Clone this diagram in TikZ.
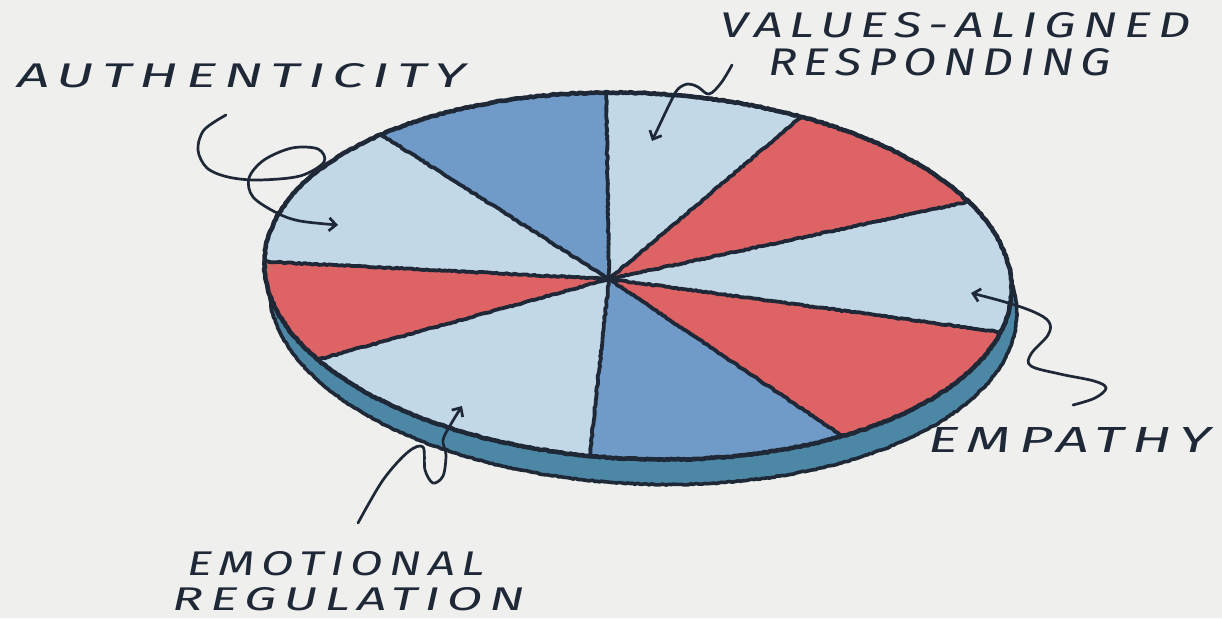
\documentclass[tikz,border=0pt]{standalone}
\usepackage{fontspec}
\usepackage{graphicx}
\usetikzlibrary{arrows.meta,decorations.pathmorphing}
\newfontfamily\hand[LetterSpace=14]{Fira Sans}

\definecolor{paper}{RGB}{239,239,237}
\definecolor{ink}{RGB}{30,40,55}
\definecolor{pale}{RGB}{194,216,230}
\definecolor{steel}{RGB}{112,155,200}
\definecolor{coral}{RGB}{221,99,101}
\definecolor{rimblue}{RGB}{76,136,166}

% point on the tilted top ellipse of the pie, by parameter angle
\pgfmathdeclarefunction{pex}{1}{\pgfmathparse{638+374*cos(#1)*0.99905-183*sin(#1)*0.04362}}
\pgfmathdeclarefunction{pey}{1}{\pgfmathparse{276+374*cos(#1)*0.04362+183*sin(#1)*0.99905}}

% hand-lettered caption squeezed into a box of given width and cap height
\newcommand{\lbl}[3]{\resizebox{#1pt}{#2pt}{\hand\itshape #3}}

\begin{document}
\begin{tikzpicture}[x=1pt,y=-1pt,
  crayon/.style={decorate, decoration={random steps, segment length=2.5pt, amplitude=0.6pt}},
  outline/.style={draw=ink, line width=4.6pt, line join=round, crayon},
  spoke/.style={draw=ink, line width=3.8pt, line cap=round, line join=round, crayon},
  callout/.style={draw=ink, line width=2.7pt, line cap=round, line join=round,
                  -{Straight Barb[length=7pt,width=13pt]}},
  lbltext/.style={text=ink, inner sep=0pt, anchor=base west}]

\pgfmathsetseed{7}
\fill[paper] (0,0) rectangle (1222,618);
\useasboundingbox (0,0) rectangle (1222,618);

% base rim under the disc
\fill[rimblue] plot[domain=0:360, samples=140] ({pex(\x)+5},{pey(\x)+25}) -- cycle;
\draw[outline, line width=3.6pt] plot[domain=0:360, samples=140] ({pex(\x)+5},{pey(\x)+25}) -- cycle;

% slices
\coordinate (hub) at (609,279);
\foreach \a/\b/\c in {-96.1/-65.3/pale, -65.3/-29.0/coral, -29.0/12.7/pale,
                      12.7/55.6/coral, 55.6/96.2/steel, 96.2/147.8/pale,
                      147.8/179.4/coral, 179.4/225.3/pale, 225.3/263.9/steel}
  \fill[\c] (hub) -- plot[domain=\a:\b, samples=30] ({pex(\x)},{pey(\x)}) -- cycle;

% dividing lines
\foreach \t [count=\i] in {-96.1,-65.3,-29.0,12.7,55.6,96.2,147.8,179.4,225.3}{
  \coordinate (edge\i) at ({pex(\t)},{pey(\t)});
  \draw[spoke] (hub) -- (edge\i);
}

% disc edge
\draw[outline] plot[domain=0:360, samples=140] ({pex(\x)},{pey(\x)}) -- cycle;

% captions
\node[lbltext] (authL) at (17,87)  {\lbl{448}{24}{AUTHENTICITY}};
\node[lbltext] (valL)  at (720,38) {\lbl{470}{25}{VALUES-ALIGNED}};
\node[lbltext] (respL) at (768,75) {\lbl{343}{27}{RESPONDING}};
\node[lbltext] (empL)  at (928,452) {\lbl{282}{25}{EMPATHY}};
\node[lbltext] (emoL)  at (187,575) {\lbl{298}{24}{EMOTIONAL}};
\node[lbltext] (regL)  at (172,610) {\lbl{352}{23}{REGULATION}};

% callout arrows
\coordinate (authS) at (226,115);  \coordinate (authT) at (338,225);
\coordinate (valS)  at (732,65);   \coordinate (valT)  at (652,141);
\coordinate (emoS)  at (358,523);  \coordinate (emoT)  at (462,406);
\coordinate (empS)  at (1073,405); \coordinate (empT)  at (971,293);

\draw[callout] plot[smooth, tension=0.55] coordinates {(authS) (204,130) (198,150)
  (207,168) (228,177) (258,180) (300,176) (324,162) (318,149) (292,148) (264,160)
  (249,178) (253,197) (277,213) (300,221) (authT)};
\draw[callout] plot[smooth, tension=0.6] coordinates {(valS) (721,83) (709,94)
  (698,87) (688,84) (678,89) (671,101) (valT)};
\draw[callout] plot[smooth, tension=0.55] coordinates {(emoS) (383,480) (408,452)
  (423,447) (425,470) (433,483) (443,476) (446,455) (443,440) (451,424) (emoT)};
\draw[callout] plot[smooth, tension=0.6] coordinates {(empS) (1095,398) (1106,388)
  (1094,381) (1060,374) (1031,366) (1031,354) (1048,335) (1049,322) (1034,312)
  (1005,302) (empT)};
\end{tikzpicture}
\end{document}
